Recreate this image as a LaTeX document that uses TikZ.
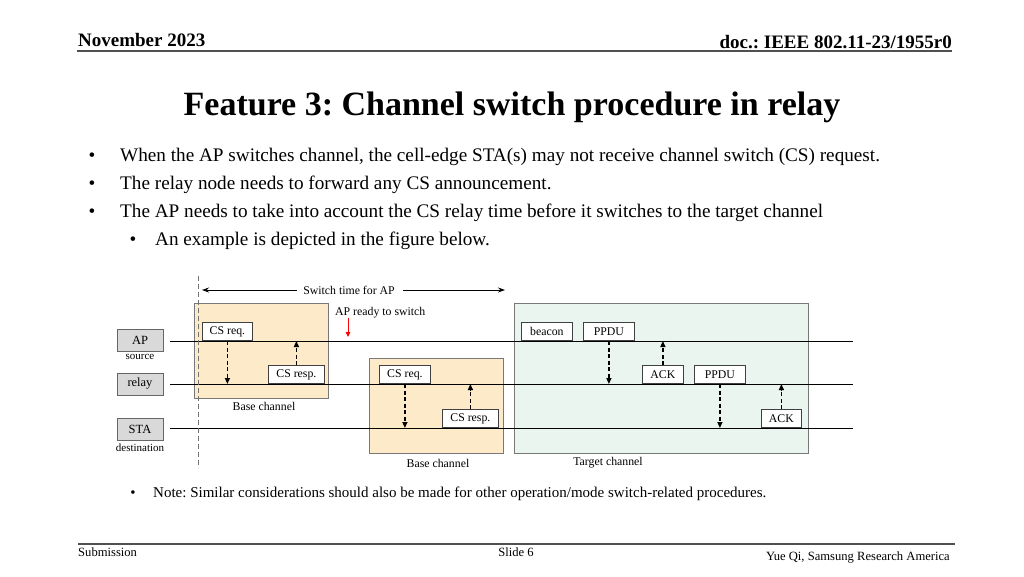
\documentclass[tikz,border=0pt]{standalone}
\usepackage{fontspec}
\setmainfont{Liberation Serif}
\usetikzlibrary{arrows.meta}
\definecolor{basefill}{RGB}{252,234,200}
\definecolor{targfill}{RGB}{234,245,240}
\definecolor{boxedge}{RGB}{120,120,120}
\definecolor{entfill}{RGB}{217,217,217}
\definecolor{hdrgray}{RGB}{80,80,80}
\frenchspacing
\begin{document}
\begin{tikzpicture}[x=1pt,y=-1pt]
\tikzset{
 hdr/.style={font=\bfseries\fontsize{19}{21}\selectfont, inner sep=0},
 body/.style={font=\fontsize{19.2}{22}\selectfont, inner sep=0, anchor=base west},
 bul/.style={font=\fontsize{19.2}{22}\selectfont, inner sep=0, anchor=base},
 note/.style={font=\fontsize{15}{17}\selectfont, inner sep=0, anchor=base west},
 foot/.style={font=\fontsize{12.6}{14}\selectfont, inner sep=0},
 small/.style={font=\fontsize{11.8}{13}\selectfont, inner sep=0},
 msgbox/.style={draw=black!75, fill=white, line width=0.8pt, minimum height=18pt, inner sep=0, font=\fontsize{11.8}{13}\selectfont, anchor=south west},
 entbox/.style={draw=black!60, fill=entfill, line width=0.8pt, minimum width=46pt, minimum height=22pt, inner sep=0, font=\fontsize{12.5}{14}\selectfont},
 chanbase/.style={draw=boxedge, fill=basefill, line width=0.8pt},
 chantarg/.style={draw=boxedge, fill=targfill, line width=0.8pt},
 chanline/.style={line width=0.9pt},
 msgarrow/.style={dash pattern=on 4pt off 2.5pt, line width=1.3pt, -{Triangle[length=6pt,width=5pt]}},
 timearrow/.style={line width=0.9pt, -{Stealth[length=7pt,width=5pt]}},
 hline/.style={draw=hdrgray, line width=1.5pt},
}
\useasboundingbox (0,0) rectangle (1024,576);
% header
\node[hdr, anchor=base west] (date) at (78,46) {November 2023};
\node[hdr, anchor=base east] (doc) at (952,48) {doc.: IEEE 802.11-23/1955r0};
\coordinate (h1) at (77,51); \coordinate (h2) at (952,51);
\draw[hline] (h1) -- (h2);
% title
\node[font=\bfseries\fontsize{34}{40}\selectfont, inner sep=0, anchor=base] (title) at (512,115) {Feature 3: Channel switch procedure in relay};
% bullets
\node[bul] (b1) at (92,161) {•};
\node[body] (t1) at (120,161) {When the AP switches channel, the cell-edge STA(s) may not receive channel switch (CS) request.};
\node[bul] (b2) at (92,189) {•};
\node[body] (t2) at (120,189) {The relay node needs to forward any CS announcement.};
\node[bul] (b3) at (92,217) {•};
\node[body] (t3) at (120,217) {The AP needs to take into account the CS relay time before it switches to the target channel};
\node[bul] (b4) at (133,245) {•};
\node[body] (t4) at (155,245) {An example is depicted in the figure below.};
% channel boxes
\draw[chanbase] (194,303) rectangle (328,398);
\draw[chanbase] (369,358) rectangle (503,453);
\draw[chantarg] (514,303) rectangle (808,453);
\node[small] (bc1) at (264,406) {Base channel};
\node[small] (bc2) at (438,463) {Base channel};
\node[small] (tc) at (608,463) {Target channel};
% channel lines
\coordinate (apL) at (170,341); \coordinate (apR) at (853,341);
\coordinate (relL) at (170,384); \coordinate (relR) at (853,384);
\coordinate (staL) at (170,428); \coordinate (staR) at (853,428);
\draw[chanline] (apL) -- (apR);
\draw[chanline] (relL) -- (relR);
\draw[chanline] (staL) -- (staR);
% entities
\node[entbox] (ap) at (140,340) {AP};
\node[small, font=\fontsize{11}{12}\selectfont] (src) at (140,357) {source};
\node[entbox] (relay) at (140,384) {relay};
\node[entbox] (sta) at (140,429) {STA};
\node[small, font=\fontsize{11}{12}\selectfont] (dst) at (140,448) {destination};
% vertical dashed line
\coordinate (v1) at (198,276); \coordinate (v2) at (198,468);
\draw[draw=black!55, line width=1pt, dash pattern=on 5pt off 3pt] (v1) -- (v2);
% switch time
\node[small] (sw) at (349,290) {Switch time for AP};
\coordinate (swl) at (202,290); \coordinate (swr) at (505,290);
\draw[timearrow] (sw.west) ++(-6,0) coordinate (swa) -- (swl);
\draw[timearrow] (sw.east) ++(8,0) coordinate (swb) -- (swr);
% AP ready
\node[small, anchor=west] (rdy) at (335,313) {AP ready to switch};
\coordinate (r1) at (348,318); \coordinate (r2) at (348,337);
\draw[red, line width=1pt, -{Triangle[length=5pt,width=4.5pt]}] (r1) -- (r2);
% messages
\node[msgbox, minimum width=50pt] (req1) at (202,341) {CS req.};
\node[msgbox, minimum width=56pt] (resp1) at (268,384) {CS resp.};
\node[msgbox, minimum width=51pt] (req2) at (379,384) {CS req.};
\node[msgbox, minimum width=56pt] (resp2) at (442,428) {CS resp.};
\node[msgbox, minimum width=51pt] (beacon) at (521,341) {beacon};
\node[msgbox, minimum width=51pt] (ppdu1) at (583,341) {PPDU};
\node[msgbox, minimum width=41pt] (ack1) at (642,384) {ACK};
\node[msgbox, minimum width=51pt] (ppdu2) at (694,384) {PPDU};
\node[msgbox, minimum width=40pt] (ack2) at (761,428) {ACK};
\draw[msgarrow] (req1.south) -- (req1.south |- relL);
\draw[msgarrow] (resp1.north) -- (resp1.north |- apL);
\draw[msgarrow] (req2.south) -- (req2.south |- staL);
\draw[msgarrow] (resp2.north) -- (resp2.north |- relL);
\draw[msgarrow] (ppdu1.south) -- (ppdu1.south |- relL);
\draw[msgarrow] (ack1.north) -- (ack1.north |- apL);
\draw[msgarrow] (ppdu2.south) -- (ppdu2.south |- staL);
\draw[msgarrow] (ack2.north) -- (ack2.north |- relL);
% note
\node[bul, font=\fontsize{15}{17}\selectfont] (b5) at (133,497) {•};
\node[note] (t5) at (153,497) {Note: Similar considerations should also be made for other operation/mode switch-related procedures.};
% footer
\coordinate (f1) at (78,544); \coordinate (f2) at (955,544);
\draw[hline] (f1) -- (f2);
\node[foot, anchor=base west] (sub) at (78,556) {Submission};
\node[foot, anchor=base] (slide) at (516,556) {Slide 6};
\node[foot, anchor=base east] (auth) at (950,560) {Yue Qi, Samsung Research America};
\end{tikzpicture}
\end{document}
